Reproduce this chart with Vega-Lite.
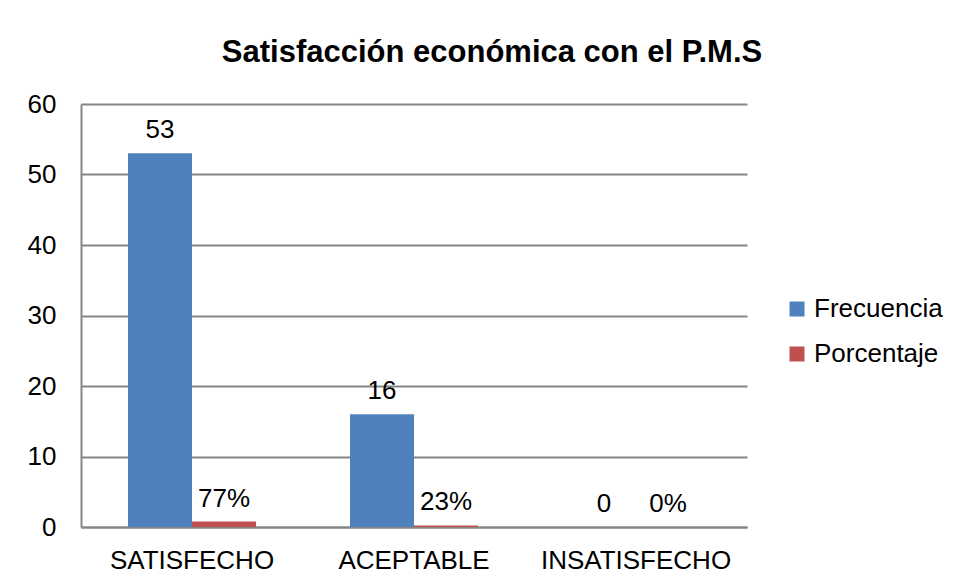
{
  "$schema": "https://vega.github.io/schema/vega-lite/v6.json",
  "autosize": {"type": "none"},
  "width": 666,
  "height": 423,
  "padding": {"left": 81, "top": 104, "right": 208, "bottom": 54},
  "background": "#ffffff",
  "title": {
    "text": "Satisfacción económica con el P.M.S",
    "font": "Liberation Sans",
    "fontSize": 31,
    "fontWeight": "bold",
    "color": "#000000",
    "anchor": "middle",
    "frame": "group",
    "baseline": "alphabetic",
    "dx": 78,
    "dy": 30,
    "offset": 28
  },
  "data": {
    "values": [
      {"categoria": "SATISFECHO", "serie": "Frecuencia", "valor": 53, "etiqueta": "53"},
      {"categoria": "SATISFECHO", "serie": "Porcentaje", "valor": 0.77, "etiqueta": "77%"},
      {"categoria": "ACEPTABLE", "serie": "Frecuencia", "valor": 16, "etiqueta": "16"},
      {"categoria": "ACEPTABLE", "serie": "Porcentaje", "valor": 0.23, "etiqueta": "23%"},
      {"categoria": "INSATISFECHO", "serie": "Frecuencia", "valor": 0, "etiqueta": "0"},
      {"categoria": "INSATISFECHO", "serie": "Porcentaje", "valor": 0, "etiqueta": "0%"}
    ]
  },
  "encoding": {
    "x": {
      "field": "categoria",
      "type": "nominal",
      "sort": ["SATISFECHO", "ACEPTABLE", "INSATISFECHO"],
      "scale": {"paddingInner": 0.4234, "paddingOuter": 0.2117},
      "axis": {
        "title": null,
        "labelAngle": 0,
        "labelFont": "Liberation Sans",
        "labelFontSize": 26,
        "labelColor": "#000000",
        "labelPadding": 20,
        "labelLimit": 0,
        "labelOverlap": false,
        "ticks": false,
        "domainColor": "#868686",
        "domainWidth": 2
      }
    },
    "xOffset": {
      "field": "serie",
      "type": "nominal",
      "sort": ["Frecuencia", "Porcentaje"],
      "scale": {"paddingInner": 0, "paddingOuter": 0}
    },
    "y": {
      "field": "valor",
      "type": "quantitative",
      "scale": {"domain": [0, 60], "nice": false},
      "axis": {
        "title": null,
        "values": [0, 10, 20, 30, 40, 50, 60],
        "labelFont": "Liberation Sans",
        "labelFontSize": 26,
        "labelColor": "#000000",
        "labelPadding": 25,
        "ticks": false,
        "grid": true,
        "gridColor": "#868686",
        "gridWidth": 2,
        "domainColor": "#868686",
        "domainWidth": 2
      }
    }
  },
  "layer": [
    {
      "mark": {"type": "bar"},
      "encoding": {
        "color": {
          "field": "serie",
          "type": "nominal",
          "sort": ["Frecuencia", "Porcentaje"],
          "scale": {"range": ["#4F81BD", "#C0504D"]},
          "legend": {
            "title": null,
            "orient": "none",
            "legendX": 703,
            "legendY": 192,
            "symbolType": "square",
            "symbolSize": 225,
            "symbolStrokeWidth": 0,
            "labelFont": "Liberation Sans",
            "labelFontSize": 26,
            "labelColor": "#000000",
            "rowPadding": 19,
            "labelOffset": 4
          }
        }
      }
    },
    {
      "mark": {
        "type": "text",
        "baseline": "alphabetic",
        "dy": -15,
        "font": "Liberation Sans",
        "fontSize": 26,
        "color": "#000000"
      },
      "encoding": {
        "text": {"field": "etiqueta", "type": "nominal"}
      }
    }
  ],
  "config": {
    "view": {"stroke": null}
  }
}
